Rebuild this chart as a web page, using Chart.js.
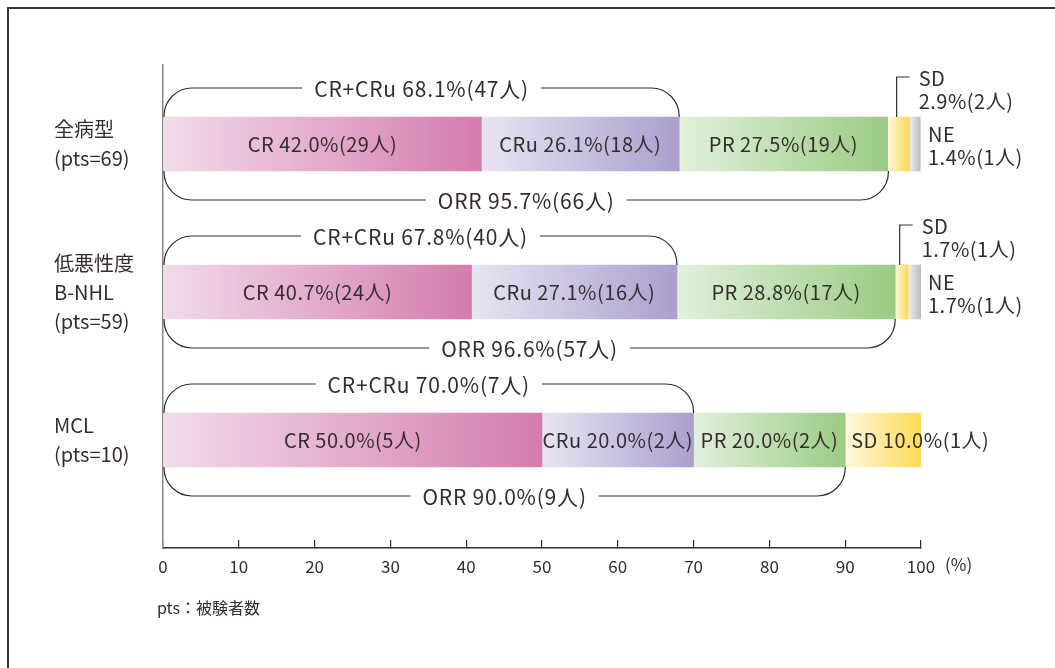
<!DOCTYPE html>
<html>
<head>
<meta charset="utf-8">
<script src="https://cdn.jsdelivr.net/npm/chart.js@4/dist/chart.umd.min.js"></script>
<style>
html, body { margin: 0; padding: 0; background: #fff; }
#wrap { position: relative; width: 1055px; height: 668px; overflow: hidden; }
#frame { position: absolute; left: 7px; top: 7px; width: 1200px; height: 800px;
         border-top: 2px solid #3a3434; border-left: 2px solid #3a3434; }
canvas { position: absolute; left: 0; top: 0; }
</style>
</head>
<body>
<div id="wrap">
  <div id="frame"></div>
  <canvas id="responseChart" width="1055" height="668"></canvas>
</div>
<script>
// 群ごとのラベル
var groups = [['全病型', '(pts=69)'], ['低悪性度', 'B-NHL', '(pts=59)'], ['MCL', '(pts=10)']];
var categories = ['CR', 'CRu', 'PR', 'SD', 'NE'];

// 各効果の割合(%)と人数
var crValues  = [42.0, 40.7, 50.0];
var cruValues = [26.1, 27.1, 20.0];
var prValues  = [27.5, 28.8, 20.0];
var sdValues  = [2.9, 1.7, 10.0];
var neValues  = [1.4, 1.7, 0];
var crN  = [29, 24, 5];
var cruN = [18, 16, 2];
var prN  = [19, 17, 2];
var sdN  = [2, 1, 1];
var neN  = [1, 1, 0];

// CR+CRu と ORR
var crCruValues = [68.1, 67.8, 70.0];
var crCruN = [47, 40, 7];
var orrValues = [95.7, 96.6, 90.0];
var orrN = [66, 57, 9];

var xTicks = [0, 10, 20, 30, 40, 50, 60, 70, 80, 90, 100];

var seriesValues = [crValues, cruValues, prValues, sdValues, neValues];
var seriesN = [crN, cruN, prN, sdN, neN];
// グラデーション(左: 淡色, 右: 濃色)
var lightColors = ['#f2dbea', '#e7e5f3', '#e1f1dc', '#fff9dc', '#efefef'];
var darkColors  = ['#d47cae', '#aa9fcd', '#9bcb83', '#fdda55', '#bcbcbc'];

var textColor = '#352d2d';
var fontFamily = '"Noto Sans CJK JP", "Noto Sans", sans-serif';

function gradientFill(ctx) {
    var s = ctx.datasetIndex;
    if (ctx.type !== 'data') return darkColors[s];
    var chart = ctx.chart;
    if (!chart.chartArea) return darkColors[s];
    var i = ctx.dataIndex;
    var start = 0;
    for (var k = 0; k < s; k++) start += seriesValues[k][i];
    var end = start + seriesValues[s][i];
    var x0 = chart.scales.x.getPixelForValue(start);
    var x1 = chart.scales.x.getPixelForValue(end);
    if (x1 - x0 < 1) return darkColors[s];
    var g = chart.ctx.createLinearGradient(x0, 0, x1, 0);
    g.addColorStop(0, lightColors[s]);
    g.addColorStop(1, darkColors[s]);
    return g;
}

var datasets = categories.map(function (cat, s) {
    return {
        label: cat,
        data: seriesValues[s].map(function (v, i) { return { x: v, y: i }; }),
        backgroundColor: gradientFill,
        borderWidth: 0,
        barThickness: 54
    };
});

function fmt(name, v, n) {
    return name + ' ' + v.toFixed(1) + '%(' + n + '人)';
}

function setFont(c, size, spacing) {
    c.font = size + 'px ' + fontFamily;
    c.fillStyle = textColor;
    c.strokeStyle = textColor;
    try { c.letterSpacing = (spacing === undefined ? 0.5 : spacing) + 'px'; } catch (e) {}
}

// 括弧線 (CR+CRu / ORR)
function drawBracket(c, x0, x1, yEdge, yLine, label) {
    var r = 28;
    setFont(c, 21, 0.8);
    var tw = c.measureText(label).width;
    var mid = (x0 + x1) / 2;
    var gap = 12;
    c.lineWidth = 1.2;
    c.beginPath();
    c.moveTo(x0, yEdge);
    c.arcTo(x0, yLine, x0 + r, yLine, r);
    c.lineTo(mid - tw / 2 - gap, yLine);
    c.moveTo(mid + tw / 2 + gap, yLine);
    c.arcTo(x1, yLine, x1, yEdge, r);
    c.lineTo(x1, yEdge);
    c.stroke();
    c.textAlign = 'center';
    c.textBaseline = 'middle';
    c.fillText(label, mid, yLine + 1);
}

var labelPlugin = {
    id: 'barLabels',
    afterDatasetsDraw: function (chart) {
        var c = chart.ctx;
        var xs = chart.scales.x;
        c.save();
        for (var i = 0; i < groups.length; i++) {
            var first = chart.getDatasetMeta(0).data[i];
            var top = first.y - first.height / 2;
            var bottom = first.y + first.height / 2;
            var left = xs.getPixelForValue(0) + 1;

            for (var s = 0; s < categories.length; s++) {
                var v = seriesValues[s][i];
                if (!v) continue;
                var el = chart.getDatasetMeta(s).data[i];
                var x0 = Math.min(el.base, el.x), x1 = Math.max(el.base, el.x);
                var w = x1 - x0;
                setFont(c, 20);
                c.textBaseline = 'middle';
                if (w >= 100) {
                    c.textAlign = 'center';
                    c.fillText(fmt(categories[s], v, seriesN[s][i]), (x0 + x1) / 2, el.y);
                } else if (w >= 40) {
                    c.textAlign = 'left';
                    c.fillText(fmt(categories[s], v, seriesN[s][i]), x0 + 6, el.y);
                } else if (categories[s] === 'SD') {
                    var lx = (x0 + x1) / 2 - 2;
                    var ly = top - 40;
                    c.lineWidth = 1.2;
                    c.beginPath();
                    c.moveTo(lx, top);
                    c.lineTo(lx, ly);
                    c.lineTo(lx + 13, ly);
                    c.stroke();
                    c.textAlign = 'left';
                    c.fillText('SD', lx + 22, ly + 1);
                    c.fillText(v.toFixed(1) + '%(' + seriesN[s][i] + '人)', lx + 22, ly + 24);
                } else {
                    var nx = xs.getPixelForValue(100) + 7;
                    c.textAlign = 'left';
                    c.fillText(categories[s], nx, el.y - 10);
                    c.fillText(v.toFixed(1) + '%(' + seriesN[s][i] + '人)', nx, el.y + 13);
                }
            }

            drawBracket(c, left, xs.getPixelForValue(crCruValues[i]), top, top - 29,
                'CR+CRu ' + crCruValues[i].toFixed(1) + '%(' + crCruN[i] + '人)');
            drawBracket(c, left, xs.getPixelForValue(orrValues[i]), bottom, bottom + 29,
                'ORR ' + orrValues[i].toFixed(1) + '%(' + orrN[i] + '人)');
        }

        // 単位と注釈
        setFont(c, 17, 0);
        c.textAlign = 'left';
        c.textBaseline = 'middle';
        c.fillText('(%)', xs.getPixelForValue(100) + 24, 565);
        setFont(c, 16, 0);
        c.fillText('pts：被験者数', 157, 608);
        c.restore();
    }
};

var ctx = document.getElementById('responseChart').getContext('2d');
var responseChart = new Chart(ctx, {
    type: 'bar',
    data: { datasets: datasets },
    plugins: [labelPlugin],
    options: {
        indexAxis: 'y',
        responsive: false,
        animation: false,
        layout: { padding: { left: 54, top: 65, right: 134, bottom: 80 } },
        plugins: { legend: { display: false }, tooltip: { enabled: false } },
        scales: {
            x: {
                type: 'linear',
                stacked: true,
                min: 0,
                max: 100,
                afterBuildTicks: function (scale) {
                    scale.ticks = xTicks.map(function (v) { return { value: v }; });
                },
                afterFit: function (scale) { scale.height = 40; },
                grid: { drawOnChartArea: false, drawTicks: true, tickLength: -8, color: textColor, lineWidth: 1.2 },
                border: { display: true, color: textColor, width: 1.5 },
                ticks: { color: textColor, padding: 16, font: { family: fontFamily, size: 17 } }
            },
            y: {
                type: 'linear',
                stacked: true,
                reverse: true,
                offset: false,
                min: -0.534,
                max: 2.73,
                afterFit: function (scale) { scale.width = 109; },
                grid: { drawOnChartArea: false, drawTicks: false, offset: false },
                border: { display: true, color: '#8c8686', width: 1.5 },
                ticks: {
                    stepSize: 1,
                    color: textColor,
                    crossAlign: 'far',
                    padding: 10,
                    font: { family: fontFamily, size: 20, lineHeight: 1.45 },
                    callback: function (v) {
                        return (Number.isInteger(v) && groups[v]) ? groups[v] : '';
                    }
                }
            }
        }
    }
});
</script>
</body>
</html>
